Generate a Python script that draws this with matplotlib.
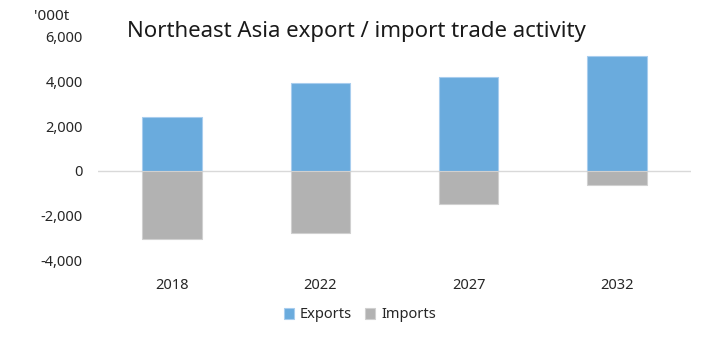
import matplotlib
matplotlib.use("Agg")
import matplotlib.pyplot as plt
import numpy as np

plt.rcParams['font.family'] = ['Noto Sans', 'DejaVu Sans']

categories = ["2018", "2022", "2027", "2032"]
exports = [2430, 3950, 4190, 5150]
imports = [-3080, -2770, -1470, -620]
yticks = [-4000, -2000, 0, 2000, 4000, 6000]

fig = plt.figure(figsize=(7.13, 3.4), dpi=100)
ax = fig.add_axes([98/713, 1-260/340, (691-98)/713, (260-37)/340])

x = np.arange(len(categories))
w = 0.4
blue = "#6aabdd"
gray = "#b2b2b2"
ax.bar(x, exports, width=w, color=blue, edgecolor="#a8cdee", linewidth=0.8, label="Exports", zorder=2)
ax.bar(x, imports, width=w, color=gray, edgecolor="#d0d0d0", linewidth=0.8, label="Imports", zorder=2)
ax.axhline(0, color="#d9d9d9", linewidth=1, zorder=1)

ax.set_xlim(-0.5, len(categories) - 0.5)
ax.set_ylim(-4000, 6000)
ax.set_yticks(yticks)
ax.set_yticklabels([f"{v:,}" for v in yticks])
ax.set_xticks(x)
ax.set_xticklabels(categories)
ax.tick_params(axis='both', length=0, labelsize=10.5, colors="#262626")
ax.tick_params(axis='y', pad=11)
ax.tick_params(axis='x', pad=13)
for s in ax.spines.values():
    s.set_visible(False)

fig.text(356/713, 1-32/340, "Northeast Asia export / import trade activity",
         ha="center", va="center", fontsize=16, color="#1a1a1a")
fig.text(52/713, 1-16/340, "'000t", ha="center", va="center", fontsize=11, color="#262626")

leg = fig.legend(loc="center", bbox_to_anchor=(360/713, 1-315/340), ncol=2, frameon=False,
                 fontsize=10.5, handlelength=0.7, handleheight=0.7, handletextpad=0.4,
                 columnspacing=0.9, labelcolor="#262626")

fig.savefig("out.png", dpi=100)
